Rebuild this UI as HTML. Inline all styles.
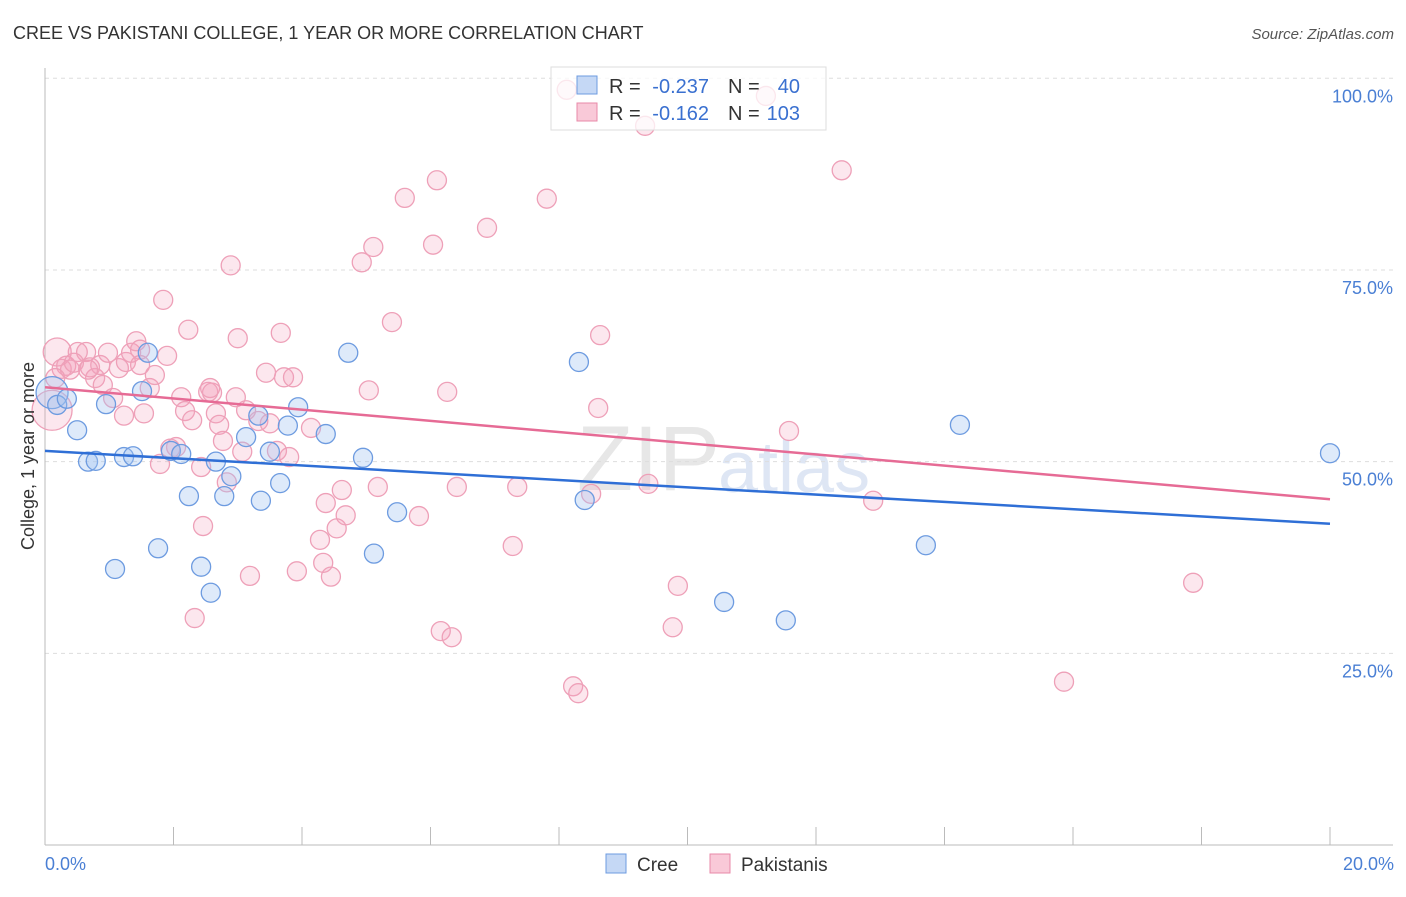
<!DOCTYPE html>
<html><head><meta charset="utf-8"><style>
body{margin:0;background:#fff;font-family:"Liberation Sans",sans-serif}
svg text{font-family:"Liberation Sans",sans-serif}
</style></head><body>
<svg width="1406" height="892">
<text x="13" y="39" font-size="18" fill="#333">CREE VS PAKISTANI COLLEGE, 1 YEAR OR MORE CORRELATION CHART</text>
<text x="1394" y="39" font-size="15" fill="#555" font-style="italic" text-anchor="end">Source: ZipAtlas.com</text>
<text x="720" y="490" font-size="92" fill="#d8d8d8" font-family="Liberation Serif" text-anchor="end" opacity="0.6">ZIP</text>
<text x="718" y="492" font-size="72" fill="#c9d7ee" opacity="0.6">atlas</text>
<g id="grid"></g>
<g id="pts"></g>
<g id="lines"></g>
<text transform="translate(34,456) rotate(-90)" font-size="18" fill="#333" text-anchor="middle">College, 1 year or more</text>
<text x="45" y="870" font-size="18" fill="#4a7fd4">0.0%</text>
<text x="1394" y="870" font-size="18" fill="#4a7fd4" text-anchor="end">20.0%</text>
<g>
<rect x="551" y="67" width="275" height="63" fill="rgba(255,255,255,0.75)" stroke="#ddd"/>
<rect x="577" y="76" width="20" height="18" fill="#c5d8f5" stroke="#6d9be0"/>
<rect x="577" y="103" width="20" height="18" fill="#f9c9d8" stroke="#e889a8"/>
<text x="609" y="93" font-size="20" fill="#333">R =</text>
<text x="709" y="93" font-size="20" fill="#3a70d0" text-anchor="end">-0.237</text>
<text x="728" y="93" font-size="20" fill="#333">N =</text>
<text x="800" y="93" font-size="20" fill="#3a70d0" text-anchor="end">40</text>
<text x="609" y="120" font-size="20" fill="#333">R =</text>
<text x="709" y="120" font-size="20" fill="#3a70d0" text-anchor="end">-0.162</text>
<text x="728" y="120" font-size="20" fill="#333">N =</text>
<text x="800" y="120" font-size="20" fill="#3a70d0" text-anchor="end">103</text>
</g>
<g>
<rect x="606" y="854" width="20" height="19" fill="#c5d8f5" stroke="#6d9be0"/>
<text x="637" y="871" font-size="19" fill="#333">Cree</text>
<rect x="710" y="854" width="20" height="19" fill="#f9c9d8" stroke="#e889a8"/>
<text x="741" y="871" font-size="19" fill="#333">Pakistanis</text>
</g>
</svg>
<script>
const yTicks=[25,50,75,100];
const yTickLabels=["25.0%","50.0%","75.0%","100.0%"];
const xTicks=[0,2,4,6,8,10,12,14,16,18,20];
const creeX=[0.11,0.19,0.34,0.50,0.67,0.79,0.95,1.09,1.23,1.37,1.60,1.51,1.76,1.96,2.12,2.24,2.43,2.58,2.66,2.79,2.90,3.13,3.36,3.32,3.50,3.66,3.78,3.94,4.37,4.72,4.95,5.12,5.48,8.31,8.40,10.57,11.53,13.71,14.24,20.0];
const creeY=[59.0,57.4,58.2,54.1,50.0,50.1,57.5,36.0,50.6,50.7,64.2,59.2,38.7,51.4,51.0,45.5,36.3,32.9,50.0,45.5,48.1,53.2,44.9,56.0,51.3,47.2,54.7,57.1,53.6,64.2,50.5,38.0,43.4,63.0,45.0,31.7,29.3,39.1,54.8,51.1];
const pakX=[0.11,0.19,0.26,0.33,0.39,0.51,0.64,0.70,0.78,0.86,0.90,0.98,1.06,1.15,1.23,1.26,1.34,1.42,1.48,1.54,1.63,1.71,1.79,1.84,1.90,1.95,2.04,2.12,2.18,2.23,2.29,2.33,2.43,2.46,2.54,2.60,2.66,2.71,2.77,2.83,2.89,2.97,3.00,3.07,3.13,3.19,3.32,3.44,3.50,3.61,3.67,3.72,3.80,3.86,3.92,4.14,4.28,4.33,4.37,4.45,4.54,4.62,4.68,4.93,5.04,5.11,5.18,5.40,5.60,5.82,6.04,6.10,6.16,6.26,6.33,6.41,6.88,7.28,7.35,7.81,8.12,8.22,8.30,8.50,8.61,8.64,9.34,9.39,9.77,9.85,11.22,11.58,12.40,12.89,15.86,17.87,0.45,1.48,2.57,0.67,0.16];
const pakY=[56.7,64.3,62.1,62.5,62.0,64.3,64.3,62.3,60.9,62.6,60.0,64.2,58.3,62.2,56.0,63.0,64.2,65.7,64.6,56.3,59.6,61.3,49.7,71.1,63.8,51.7,51.9,58.4,56.6,67.2,55.4,29.6,49.3,41.6,59.1,59.0,56.3,54.8,52.7,47.3,75.6,58.4,66.1,51.3,56.7,35.1,55.3,61.6,55.0,51.4,66.8,61.0,50.6,61.0,35.7,54.4,39.8,36.8,44.6,35.0,41.3,46.3,43.0,76.0,59.3,78.0,46.7,68.2,84.4,42.9,78.3,86.7,27.9,59.1,27.1,46.7,80.5,39.0,46.7,84.3,98.5,20.7,19.8,45.8,57.0,66.5,93.8,47.1,28.4,33.8,97.7,54.0,88.0,44.9,21.3,34.2,62.9,62.6,59.6,62.0,60.9];
const creeTrend=[51.4,41.9];
const pakTrend=[59.7,45.1];
const trendX=[0,20];
const NS="http://www.w3.org/2000/svg";
const X=v=>45+v*64.25, Y=v=>845-v*7.667;
function mk(tag,at,parent){const e=document.createElementNS(NS,tag);for(const k in at)e.setAttribute(k,at[k]);parent.appendChild(e);return e;}
const grid=document.getElementById('grid');
yTicks.forEach((t,i)=>{
 const l=mk('line',{x1:45,x2:1393,y1:Y(t),y2:Y(t),stroke:'#ddd','stroke-dasharray':'4,4'},grid);
 
 
 const tx=mk('text',{x:1393,y:Y(t)+24,'font-size':18,fill:'#4a7fd4','text-anchor':'end'},grid);
 tx.textContent=yTickLabels[i];
 
 
});
const ax=mk('line',{x1:45,x2:45,y1:68,y2:845,stroke:'#bbb'},grid);


const bx=mk('line',{x1:45,x2:1393,y1:845,y2:845,stroke:'#bbb'},grid);


xTicks.forEach(t=>{
 const l=mk('line',{x1:X(t),x2:X(t),y1:827,y2:845,stroke:'#bbb'},grid);
 
 
});
const pts=document.getElementById('pts');
pakX.forEach((x,i)=>{
 const r=i==0?20:(i==1?14:9.5);
 const c=mk('circle',{cx:X(x),cy:Y(pakY[i]),r:r,fill:'rgba(244,160,188,0.25)',stroke:'#eea0b8','stroke-width':1.3},pts);
 
 
});
creeX.forEach((x,i)=>{
 const r=i==0?16:9.5;
 const c=mk('circle',{cx:X(x),cy:Y(creeY[i]),r:r,fill:'rgba(160,195,240,0.35)',stroke:'#6d9be0','stroke-width':1.3},pts);
 
 
});
const lines=document.getElementById('lines');
const l1=mk('line',{x1:X(trendX[0]),y1:Y(creeTrend[0]),x2:X(trendX[1]),y2:Y(creeTrend[1]),stroke:'#2f6fd6','stroke-width':2.5},lines);


const l2=mk('line',{x1:X(trendX[0]),y1:Y(pakTrend[0]),x2:X(trendX[1]),y2:Y(pakTrend[1]),stroke:'#e66b95','stroke-width':2.5},lines);


</script>
</body></html>
